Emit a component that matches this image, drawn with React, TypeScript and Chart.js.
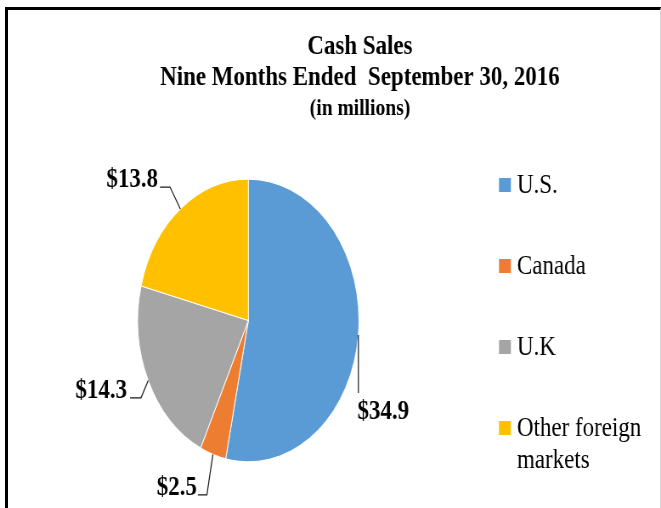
import React, { useEffect, useRef } from 'react';
import { Chart, registerables, layouts } from 'chart.js';

Chart.register(...registerables);

// ---- data ----
const categories = ['U.S.', 'Canada', 'U.K', 'Other foreign markets'];
const legendLines = [['U.S.'], ['Canada'], ['U.K'], ['Other foreign', 'markets']];
const values = [34.9, 2.5, 14.3, 13.8];
const sliceColors = ['#5B9BD5', '#ED7D31', '#A5A5A5', '#FFC000'];
const titleLines = ['Cash Sales', 'Nine Months Ended  September 30, 2016'];
const subtitleText = '(in millions)';

// ---- layout / style ----
const SERIF = "'Liberation Serif', 'Times New Roman', serif";
const CSS_W = 661;
const CSS_H = 508;
const BUF_W = 778; // drawing buffer is squeezed horizontally into 661px
const KX = 0.9214; // extra horizontal squeeze of the pie
const PIE_RADIUS = 141.3;
const LEGEND_BOX_W = 262.8;
const LEG = { boxX: 72.1, textX: 93.3, firstBaseline: 50.6, step: 81, lineH: 32, box: 14 };
// label leader paths (relative to slice mid-point on the rim) and label offsets
const LABEL_LAYOUT = [
  { path: [[0, 58]], dx: -1, dy: 84, align: 'left' },
  { path: [[-7.1, 40.6], [-17.7, 40.6]], dx: -18.8, dy: 40.6, align: 'right' },
  { path: [[-8.5, 17.3], [-21.4, 17.3]], dx: -25, dy: 17.3, align: 'right' },
  { path: [[-12.2, -22], [-24, -22]], dx: -26.4, dy: -22, align: 'right' },
];

const sideLegendPlugin = {
  id: 'sideLegend',
  start(chart: any) {
    const box: any = {
      position: 'right',
      weight: 1000,
      fullSize: false,
      options: {},
      width: 0,
      height: 0,
      left: 0,
      top: 0,
      right: 0,
      bottom: 0,
      isHorizontal() {
        return false;
      },
      update(_maxW: number, maxH: number) {
        box.width = LEGEND_BOX_W;
        box.height = maxH;
      },
      draw() {
        const ctx = chart.ctx;
        ctx.save();
        categories.forEach((_c, i) => {
          const baseY = box.top + LEG.firstBaseline + i * LEG.step;
          ctx.fillStyle = sliceColors[i];
          ctx.fillRect(box.left + LEG.boxX, baseY - LEG.box - 1, LEG.box, LEG.box);
          ctx.fillStyle = '#000';
          ctx.font = `27px ${SERIF}`;
          ctx.textAlign = 'left';
          ctx.textBaseline = 'alphabetic';
          legendLines[i].forEach((line, j) => {
            ctx.fillText(line, box.left + LEG.textX, baseY + j * LEG.lineH);
          });
        });
        ctx.restore();
      },
    };
    layouts.addBox(chart, box);
    chart.$sideLegend = box;
  },
  stop(chart: any) {
    if (chart.$sideLegend) layouts.removeBox(chart, chart.$sideLegend);
  },
};

const ellipsePlugin = {
  id: 'ellipsePie',
  beforeDatasetsDraw(chart: any) {
    const arc = chart.getDatasetMeta(0).data[0];
    const ctx = chart.ctx;
    ctx.save();
    ctx.translate(arc.x, arc.y);
    ctx.scale(KX, 1);
    ctx.translate(-arc.x, -arc.y);
  },
  afterDatasetsDraw(chart: any) {
    const ctx = chart.ctx;
    ctx.restore();
    const meta = chart.getDatasetMeta(0);
    ctx.save();
    ctx.strokeStyle = '#1a1a1a';
    ctx.lineWidth = 1.2;
    ctx.fillStyle = '#000';
    ctx.font = `bold 27px ${SERIF}`;
    ctx.textBaseline = 'alphabetic';
    meta.data.forEach((arc: any, i: number) => {
      const { x, y, startAngle, endAngle, outerRadius } = arc.getProps(
        ['x', 'y', 'startAngle', 'endAngle', 'outerRadius'],
        true
      );
      const mid = (startAngle + endAngle) / 2;
      const ax = x + Math.cos(mid) * outerRadius * KX;
      const ay = y + Math.sin(mid) * outerRadius;
      const cfg = LABEL_LAYOUT[i];
      ctx.beginPath();
      ctx.moveTo(ax, ay);
      cfg.path.forEach(([dx, dy]) => ctx.lineTo(ax + dx, ay + dy));
      ctx.stroke();
      ctx.textAlign = cfg.align;
      ctx.fillText(`$${values[i].toFixed(1)}`, ax + cfg.dx, ay + cfg.dy);
    });
    ctx.restore();
  },
};

export default function App() {
  const canvasRef = useRef<HTMLCanvasElement | null>(null);

  useEffect(() => {
    if (!canvasRef.current) return;
    const chart = new Chart(canvasRef.current, {
      type: 'pie',
      data: {
        labels: categories,
        datasets: [
          {
            data: values,
            backgroundColor: sliceColors,
            borderColor: '#ffffff',
            borderWidth: 1,
            radius: PIE_RADIUS,
          },
        ],
      },
      options: {
        responsive: false,
        devicePixelRatio: 1,
        animation: false,
        events: [],
        layout: { padding: { left: 69.4, right: 0, top: 0, bottom: 9.4 } },
        plugins: {
          legend: { display: false },
          tooltip: { enabled: false },
          title: {
            display: true,
            text: titleLines,
            color: '#000',
            font: { family: SERIF, size: 27, weight: 'bold', lineHeight: 31 / 27 },
            padding: { top: 31.3, bottom: 0 },
          },
          subtitle: {
            display: true,
            text: subtitleText,
            color: '#000',
            font: { family: SERIF, size: 23, weight: 'bold', lineHeight: 1.2 },
            padding: { top: 1.9, bottom: 19.6 },
          },
        },
      } as any,
      plugins: [sideLegendPlugin, ellipsePlugin] as any,
    });
    return () => chart.destroy();
  }, []);

  return (
    <div
      style={{
        position: 'absolute',
        left: 0,
        top: 0,
        width: CSS_W,
        height: CSS_H,
        background: '#fff',
        overflow: 'hidden',
      }}
    >
      <div
        style={{
          position: 'absolute',
          left: 5,
          top: 7,
          width: CSS_W - 5,
          height: CSS_H - 7,
          boxSizing: 'border-box',
          borderTop: '3px solid #000',
          borderLeft: '3px solid #000',
          borderRight: '1px solid #d6d6d6',
        }}
      />
      <canvas
        ref={canvasRef}
        width={BUF_W}
        height={CSS_H}
        style={{ position: 'absolute', left: 0, top: 0, width: `${CSS_W}px`, height: `${CSS_H}px` }}
      />
    </div>
  );
}
